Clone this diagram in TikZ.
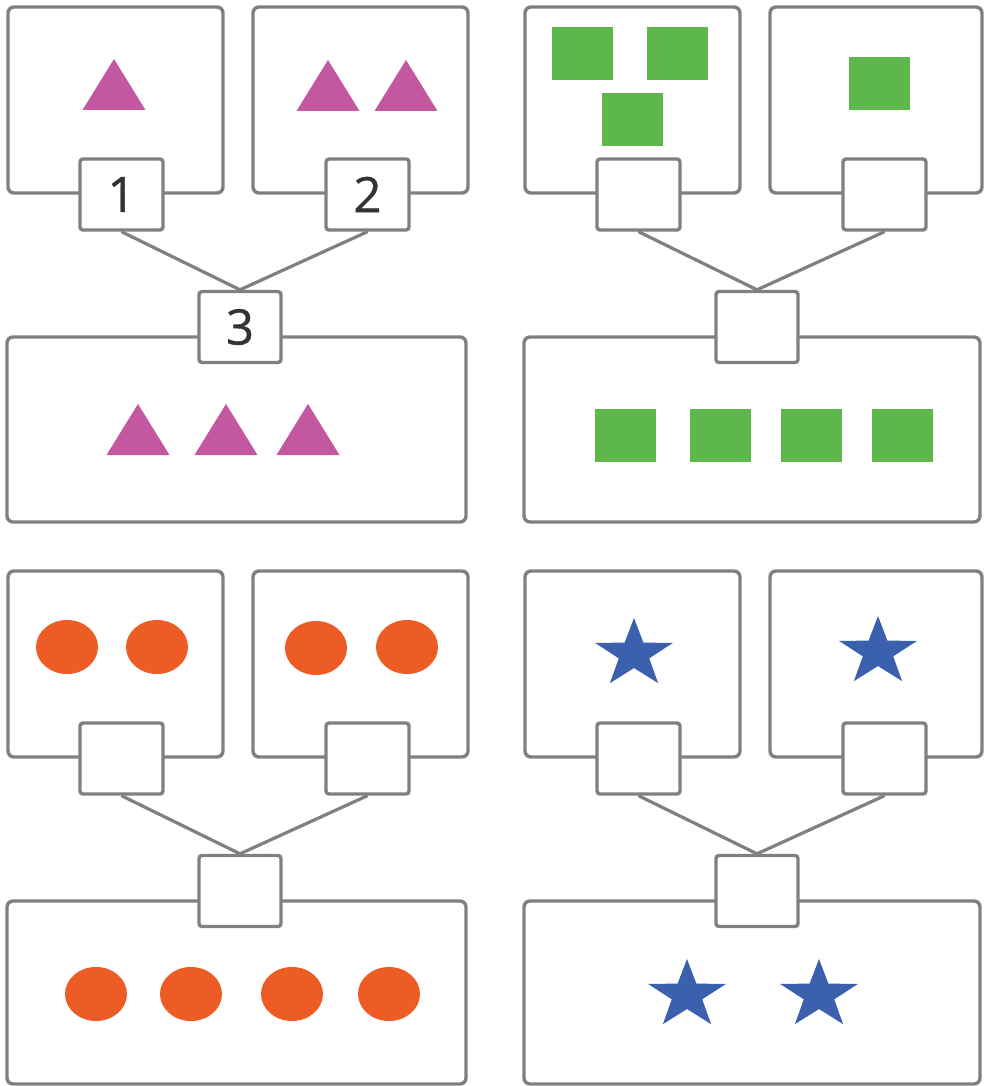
\documentclass[tikz,border=0pt]{standalone}
\usepackage{fontspec}
\setmainfont{Open Sans}
\newfontfamily\digitfont{Open Sans}[FakeBold=0.8]
\definecolor{boxgray}{RGB}{128,128,128}
\definecolor{trimag}{RGB}{196,88,160}
\definecolor{sqgreen}{RGB}{94,183,74}
\definecolor{ovorange}{RGB}{236,92,36}
\definecolor{stblue}{RGB}{58,96,174}
\definecolor{digitgray}{RGB}{51,51,51}
\tikzset{
  bigbox/.style={draw=boxgray, line width=3.4pt, rounded corners=6pt, fill=white, inner sep=0pt},
  numbox/.style={draw=boxgray, line width=3.4pt, rounded corners=3pt, fill=white, inner sep=0pt,
    minimum width=83pt, minimum height=71pt, text=digitgray, font=\digitfont\fontsize{49}{49}\selectfont},
  link/.style={draw=boxgray, line width=3.2pt},
}
% #1 dx, #2 dy, #3 prefix, #4 right trim, #5 bottom trim, #6 #7 #8 labels
\newcommand\mypanel[8]{%
\begin{scope}[shift={(#1,#2)}]
 \node[bigbox, minimum width=215pt, minimum height=186pt] (#3A) at (115.5,100) {};
 \node[bigbox, minimum width={215pt-#4pt}, minimum height=186pt] (#3B) at ({360.5-#4/2},100) {};
 \node[numbox] (#3s1) at (121.5,194.5) {#6};
 \node[numbox] (#3s2) at (367.5,194.5) {#7};
 \node[bigbox, minimum width={459pt-#4pt}, minimum height={185pt-#5pt}] (#3C) at ({236.5-#4/2},{429.5-#5/2}) {};
 \node[numbox, minimum width=82pt] (#3s3) at (240,327) {#8};
 \draw[link] (#3s1.south) -- (#3s3.north);
 \draw[link] (#3s2.south) -- (#3s3.north);
\end{scope}}
\newcommand\mytri[2]{\fill[trimag] ({#1-31.5},{#2+51}) -- (#1,#2) -- ({#1+31.5},{#2+51}) -- cycle;}
\newcommand\mysq[2]{\fill[sqgreen] (#1,#2) rectangle ({#1+61},{#2+53});}
\newcommand\myoval[2]{\fill[ovorange] (#1,#2) ellipse [x radius=31pt, y radius=27pt];}
\newcommand\mystar[2]{\fill[stblue, shift={(#1,#2)}, xscale=41, yscale=-36]
  (90:1) -- (126:0.39) -- (162:1) -- (198:0.39) -- (234:1) -- (270:0.39)
  -- (306:1) -- (342:0.39) -- (18:1) -- (54:0.39) -- cycle;}
\begin{document}
\begin{tikzpicture}[x=1pt,y=-1pt]
\fill[white] (0,0) rectangle (983,1086);
\useasboundingbox (0,0) rectangle (983,1086);
% panels
\mypanel{0}{0}{tl}{0}{0}{1}{2}{3}
\mypanel{517}{0}{tr}{3}{0}{}{}{}
\mypanel{0}{564}{bl}{0}{2}{}{}{}
\mypanel{517}{564}{br}{3}{2}{}{}{}
% triangles
\mytri{114}{59}
\mytri{328}{60}
\mytri{406}{60}
\mytri{138}{404}
\mytri{226}{404}
\mytri{308}{404}
% squares
\mysq{552}{27}
\mysq{647}{27}
\mysq{602}{93}
\mysq{849}{57}
\mysq{595}{409}
\mysq{690}{409}
\mysq{781}{409}
\mysq{872}{409}
% ovals
\myoval{67}{647}
\myoval{157}{647}
\myoval{316}{648}
\myoval{407}{647}
\myoval{96}{994}
\myoval{191}{994}
\myoval{292}{994}
\myoval{389}{994}
% stars
\mystar{634}{654}
\mystar{878}{652}
\mystar{687}{995}
\mystar{819}{995}
\end{tikzpicture}
\end{document}
